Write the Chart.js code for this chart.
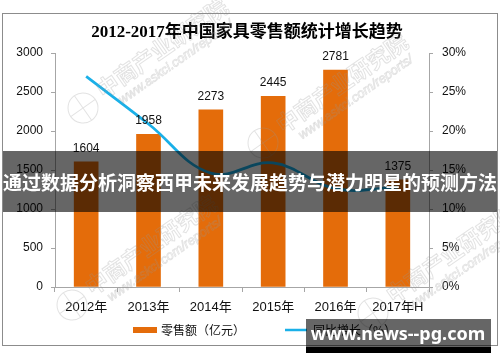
<!DOCTYPE html>
<html>
<head>
<meta charset="utf-8">
<script src="https://cdn.jsdelivr.net/npm/chart.js@4/dist/chart.umd.min.js"></script>
<style>
  html, body { margin: 0; padding: 0; background: #fff; }
  #c { display: block; }
</style>
</head>
<body>
<canvas id="c" width="500" height="362"></canvas>
<script>
// values
const years = ['2012年', '2013年', '2014年', '2015年', '2016年', '2017年H'];
const sales = [1604, 1958, 2273, 2445, 2781, 1375];        // 零售额（亿元）
const growth = [27.0, 20.9, 14.6, 15.9, 12.6, 12.8];       // 同比增长（%）
const salesTicks = [0, 500, 1000, 1500, 2000, 2500, 3000];
const growthTicks = [0, 5, 10, 15, 20, 25, 30];

const TITLE = '2012-2017年中国家具零售额统计增长趋势';
const BANNER = '通过数据分析洞察西甲未来发展趋势与潜力明星的预测方法';
const SITE = 'www.news--pg.com';

const ORANGE = '#E46C0A';
const BLUE = '#1AB0E8';
const AXIS = '#A6A6A6';
const SANS = "'Liberation Sans', 'Noto Sans CJK SC', sans-serif";
const CJK = "'Noto Sans CJK SC', sans-serif";

function drawWatermark(ctx, x, y) {
  ctx.save();
  ctx.translate(x, y);
  ctx.rotate(-35 * Math.PI / 180);
  ctx.strokeStyle = 'rgba(150,150,150,0.28)';
  ctx.lineWidth = 1;
  ctx.beginPath();
  ctx.arc(0, 0, 15, 0, Math.PI * 2);
  ctx.moveTo(-15, 0); ctx.lineTo(15, 0);
  ctx.moveTo(0, -15); ctx.lineTo(0, 15);
  ctx.stroke();
  ctx.textBaseline = 'middle';
  ctx.textAlign = 'left';
  ctx.font = 'bold 22px ' + CJK;
  ctx.strokeText('中商产业研究院', 22, -4);
  ctx.lineWidth = 0.8;
  ctx.font = 'italic 13px ' + SANS;
  ctx.strokeText('www.askci.com/reports/', 34, 16);
  ctx.restore();
}

const decor = {
  id: 'decor',
  beforeDraw(chart) {
    const ctx = chart.ctx;
    ctx.save();
    ctx.fillStyle = '#fff';
    ctx.fillRect(0, 0, chart.width, chart.height);
    ctx.strokeStyle = '#8C8C8C';
    ctx.lineWidth = 1;
    ctx.strokeRect(2.5, 13.5, 495, 332);
    ctx.fillStyle = '#000';
    ctx.font = 'bold 17px ' + "'Liberation Serif', 'Noto Sans CJK SC', serif";
    ctx.textAlign = 'center';
    ctx.textBaseline = 'middle';
    ctx.fillText(TITLE, 247, 33);
    ctx.restore();
  },
  afterDatasetsDraw(chart) {
    const ctx = chart.ctx;
    ctx.save();
    // value labels above bars
    chart.data.datasets.forEach((ds, di) => {
      if (ds.type !== 'bar') return;
      const meta = chart.getDatasetMeta(di);
      ctx.fillStyle = '#111';
      ctx.font = '12px ' + SANS;
      ctx.textAlign = 'center';
      ctx.textBaseline = 'alphabetic';
      meta.data.forEach((bar, i) => {
        ctx.fillText(String(ds.data[i]), bar.x, bar.y - 10);
      });
    });
    ctx.restore();
    drawWatermark(ctx, 83, 108);
    drawWatermark(ctx, 263, 143);
    drawWatermark(ctx, 72, 305);
    drawWatermark(ctx, 373, 313);
  },
  afterDraw(chart) {
    const ctx = chart.ctx;
    ctx.save();
    // legend
    const ly = 330;
    ctx.fillStyle = ORANGE;
    ctx.fillRect(133, ly - 3, 24, 6);
    ctx.strokeStyle = BLUE;
    ctx.lineWidth = 2.5;
    ctx.beginPath();
    ctx.moveTo(285, ly);
    ctx.lineTo(307, ly);
    ctx.stroke();
    ctx.fillStyle = '#111';
    ctx.font = '12px ' + CJK;
    ctx.textAlign = 'left';
    ctx.textBaseline = 'middle';
    ctx.fillText(chart.data.datasets[1].label, 161, ly);
    ctx.fillText(chart.data.datasets[0].label, 313, ly);

    // overlay banner
    ctx.fillStyle = 'rgba(0,0,0,0.6)';
    ctx.fillRect(3, 151, 494, 61);
    ctx.fillStyle = '#fff';
    ctx.font = 'bold 19px ' + CJK;
    ctx.textAlign = 'center';
    ctx.fillText(BANNER, 250, 183);

    // site box
    ctx.fillStyle = 'rgba(0,0,0,0.6)';
    ctx.fillRect(306, 319, 185, 28);
    ctx.fillStyle = '#000';
    ctx.fillRect(306, 347, 185, 6);
    ctx.fillStyle = '#fff';
    ctx.font = "bold 18px 'Noto Sans', 'Liberation Sans', sans-serif";
    ctx.fillText(SITE, 398, 335);
    ctx.restore();
  }
};

new Chart(document.getElementById('c'), {
  data: {
    labels: years,
    datasets: [
      {
        type: 'line',
        label: '同比增长（%）',
        data: growth,
        yAxisID: 'y1',
        borderColor: BLUE,
        borderWidth: 2.75,
        pointRadius: 0,
        tension: 0.4,
        fill: false,
        order: 0
      },
      {
        type: 'bar',
        label: '零售额（亿元）',
        data: sales,
        yAxisID: 'y',
        backgroundColor: ORANGE,
        barThickness: 24,
        order: 1
      }
    ]
  },
  options: {
    responsive: false,
    devicePixelRatio: 1,
    animation: false,
    layout: { padding: { top: 53, bottom: 45, left: 0, right: 0 } },
    plugins: { legend: { display: false }, tooltip: { enabled: false }, title: { display: false } },
    scales: {
      x: {
        offset: true,
        grid: { offset: true, drawOnChartArea: false, tickLength: 5, color: AXIS },
        border: { color: AXIS },
        ticks: { font: { size: 13, family: SANS }, color: '#111', padding: 8, maxRotation: 0 },
        afterFit(s) { s.height = 30; }
      },
      y: {
        position: 'left',
        min: salesTicks[0],
        max: salesTicks[salesTicks.length - 1],
        grid: { drawOnChartArea: false, tickLength: 4, color: AXIS },
        border: { color: AXIS },
        ticks: {
          stepSize: salesTicks[1] - salesTicks[0],
          font: { size: 12, family: SANS },
          color: '#111',
          padding: 8,
          callback: v => String(v)
        },
        afterFit(s) { s.width = 55; }
      },
      y1: {
        position: 'right',
        min: growthTicks[0],
        max: growthTicks[growthTicks.length - 1],
        grid: { drawOnChartArea: false, tickLength: 4, color: AXIS },
        border: { color: AXIS },
        ticks: {
          stepSize: growthTicks[1] - growthTicks[0],
          font: { size: 12, family: SANS },
          color: '#111',
          padding: 9,
          callback: v => v + '%'
        },
        afterFit(s) { s.width = 71; }
      }
    }
  },
  plugins: [decor]
});
</script>
</body>
</html>
